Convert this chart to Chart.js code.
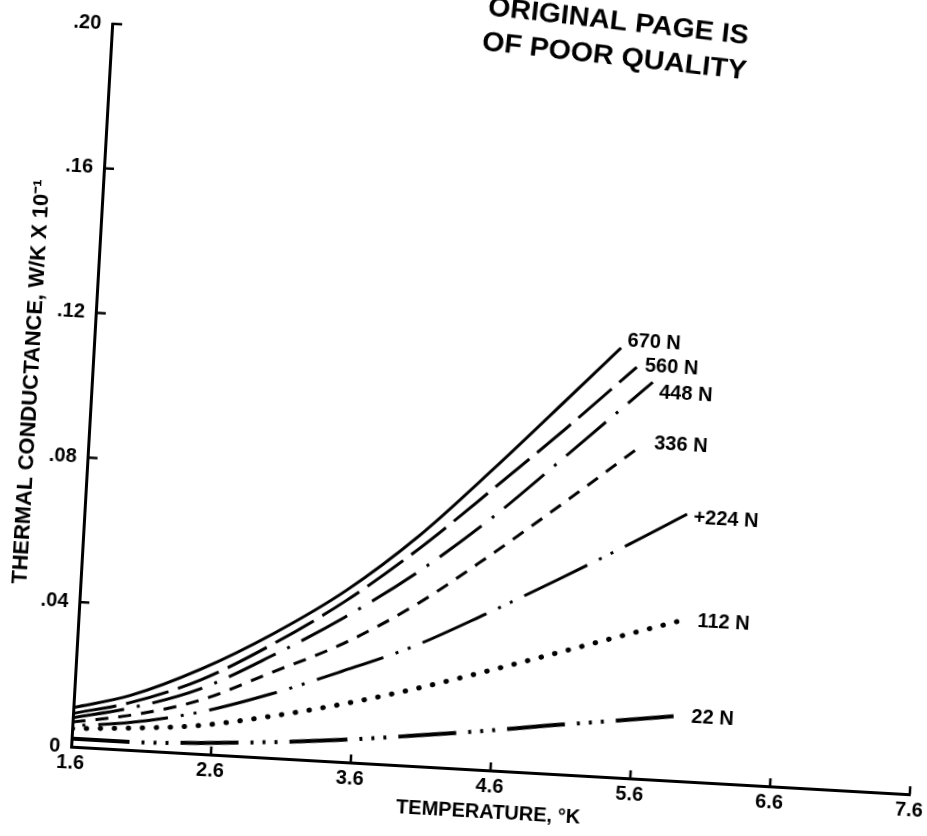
<!DOCTYPE html>
<html>
<head>
<meta charset="utf-8">
<script src="https://cdn.jsdelivr.net/npm/chart.js@4.4.1/dist/chart.umd.min.js"></script>
<style>
  html, body { margin: 0; padding: 0; background: #fff; overflow: hidden; width: 927px; height: 836px; }
  /* the scanned figure sits slightly tilted on the page */
  #sheet { position: absolute; left: 0; top: 0; width: 980px; height: 860px; transform-origin: 511px 409px; transform: rotate(3.25deg); }
</style>
</head>
<body>
<div id="sheet"><canvas id="chart" width="980" height="860"></canvas></div>
<script>
// Temperature (K) and thermal conductance (W/K x 10^-1)
const t670 = [1.6, 2.0, 2.5, 3.0, 3.5, 4.0, 4.5, 5.0, 5.36];
const k670 = [0.0108, 0.0150, 0.0235, 0.0344, 0.0474, 0.0637, 0.0832, 0.1037, 0.1186];
const t560 = [1.6, 2.0, 2.5, 3.0, 3.5, 4.0, 4.5, 5.0, 5.48];
const k560 = [0.0092, 0.0130, 0.0205, 0.0315, 0.0445, 0.0600, 0.0775, 0.0955, 0.1135];
const t448 = [1.6, 2.0, 2.5, 3.0, 3.5, 4.0, 4.5, 5.0, 5.6];
const k448 = [0.0080, 0.0115, 0.0180, 0.0283, 0.0400, 0.0535, 0.0694, 0.0875, 0.1096];
const t336 = [1.6, 2.0, 2.5, 3.0, 3.5, 4.0, 4.5, 5.0, 5.55];
const k336 = [0.0068, 0.0095, 0.0148, 0.0236, 0.0327, 0.0445, 0.0590, 0.0745, 0.0921];
const t224 = [1.6, 2.0, 2.5, 3.0, 3.5, 4.0, 4.5, 5.0, 5.5, 5.91];
const k224 = [0.0058, 0.0075, 0.0115, 0.0176, 0.0250, 0.0330, 0.0430, 0.0536, 0.0646, 0.0740];
const t112 = [1.6, 2.0, 2.5, 3.0, 3.5, 4.0, 4.5, 5.0, 5.5, 5.93];
const k112 = [0.0050, 0.0060, 0.0078, 0.0114, 0.0158, 0.0210, 0.0269, 0.0331, 0.0394, 0.0447];
const t22 = [1.6, 2.0, 2.5, 3.0, 3.5, 4.0, 4.5, 5.0, 5.5, 5.94];
const k22 = [0.0022, 0.0022, 0.0030, 0.0043, 0.0060, 0.0082, 0.0106, 0.0133, 0.0158, 0.0181];

const loadLabels = ['670 N', '560 N', '448 N', '336 N', '+224 N', '112 N', '22 N'];

const xTicks = [1.6, 2.6, 3.6, 4.6, 5.6, 6.6, 7.6];
const xTickLabels = ['1.6', '2.6', '3.6', '4.6', '5.6', '6.6', '7.6'];
const yTicks = [0, 0.04, 0.08, 0.12, 0.16, 0.20];
const yTickLabels = ['0', '.04', '.08', '.12', '.16', '.20'];

const FONT = "'Liberation Sans', Arial, sans-serif";

const series = [
    { t: t670, k: k670, dash: [], width: 3 },
    { t: t560, k: k560, dash: [44, 10], width: 3 },
    { t: t448, k: k448, dash: [52, 13, 3, 13], width: 3 },
    { t: t336, k: k336, dash: [13, 10], width: 3 },
    { t: t224, k: k224, dash: [70, 13, 3, 10, 3, 13], width: 3, offset: 86 },
    { t: t112, k: k112, dash: [0.5, 13.5], width: 5, cap: 'round' },
    { t: t22, k: k22, dash: [58, 12, 3, 9, 3, 9, 3, 12], width: 4 }
];

// where each curve's name sits relative to its last point
const labelOffsets = [[6, -7], [8, -2], [7, 10], [12, -2], [5, 4], [12, 1], [10, 1]];

const datasets = series.map((s, i) => ({
    label: loadLabels[i],
    data: s.t.map((x, j) => ({ x: x, y: s.k[j] })),
    borderColor: '#000',
    borderWidth: s.width,
    borderDash: s.dash,
    borderDashOffset: s.offset || 0,
    borderCapStyle: s.cap || 'butt',
    pointRadius: 0,
    fill: false,
    cubicInterpolationMode: 'monotone'
}));

// inward tick marks, curve names and the archive stamp
const annotations = {
    id: 'annotations',
    afterDraw(chart) {
        const { ctx, chartArea, scales: { x, y } } = chart;
        ctx.save();
        ctx.strokeStyle = '#000';
        ctx.lineWidth = 2.5;
        ctx.beginPath();
        yTicks.forEach(v => {
            if (v === 0) return;
            const py = y.getPixelForValue(v);
            ctx.moveTo(chartArea.left, py);
            ctx.lineTo(chartArea.left + 10, py);
        });
        xTicks.forEach((v, i) => {
            if (i === 0) return;
            const px = x.getPixelForValue(v);
            ctx.moveTo(px, chartArea.bottom);
            ctx.lineTo(px, chartArea.bottom - 8);
        });
        ctx.stroke();

        ctx.fillStyle = '#000';
        ctx.font = 'bold 20px ' + FONT;
        ctx.textAlign = 'left';
        ctx.textBaseline = 'middle';
        chart.data.datasets.forEach((ds, i) => {
            const pts = chart.getDatasetMeta(i).data;
            const last = pts[pts.length - 1];
            ctx.fillText(ds.label, last.x + labelOffsets[i][0], last.y + labelOffsets[i][1]);
        });

        // stamp
        const stamp = (text, px, py, w) => {
            ctx.save();
            ctx.translate(px, py);
            ctx.rotate(3.15 * Math.PI / 180);
            ctx.font = 'bold 27px ' + FONT;
            ctx.textBaseline = 'alphabetic';
            const m = ctx.measureText(text).width;
            ctx.scale(w / m, 1);
            ctx.fillText(text, 0, 0);
            ctx.restore();
        };
        stamp('ORIGINAL PAGE IS', 465, 17, 262);
        stamp('OF POOR QUALITY', 461, 52, 266);
        ctx.restore();
    }
};

new Chart(document.getElementById('chart'), {
    type: 'line',
    data: { datasets: datasets },
    options: {
        responsive: false,
        animation: false,
        layout: { padding: { left: 0, right: 49, top: 47, bottom: 29 } },
        plugins: {
            legend: { display: false },
            tooltip: { enabled: false }
        },
        scales: {
            x: {
                type: 'linear',
                min: 1.6,
                max: 7.6,
                afterBuildTicks: s => { s.ticks = xTicks.map(v => ({ value: v })); },
                afterFit: s => { s.height = 60; },
                grid: { display: false, drawTicks: false },
                border: { display: true, color: '#000', width: 3 },
                ticks: {
                    color: '#000',
                    padding: 4,
                    maxRotation: 0,
                    autoSkip: false,
                    font: { family: FONT, size: 20, weight: 'bold' },
                    callback: (v, i) => xTickLabels[i]
                },
                title: {
                    display: true,
                    text: 'TEMPERATURE, °K',
                    color: '#000',
                    font: { family: FONT, size: 20, weight: 'bold' },
                    padding: { top: 0, bottom: 6 }
                }
            },
            y: {
                type: 'linear',
                min: 0,
                max: 0.2,
                afterBuildTicks: s => { s.ticks = yTicks.map(v => ({ value: v })); },
                afterFit: s => { s.width = 91; },
                grid: { display: false, drawTicks: false },
                border: { display: true, color: '#000', width: 3 },
                ticks: {
                    color: '#000',
                    padding: 11,
                    autoSkip: false,
                    font: { family: FONT, size: 20, weight: 'bold' },
                    callback: (v, i) => yTickLabels[i]
                },
                title: {
                    display: true,
                    text: 'THERMAL CONDUCTANCE, W/K X 10⁻¹',
                    color: '#000',
                    font: { family: FONT, size: 22, weight: 'bold' },
                    padding: { top: 18, bottom: 0 }
                }
            }
        }
    },
    plugins: [annotations]
});
</script>
</body>
</html>
